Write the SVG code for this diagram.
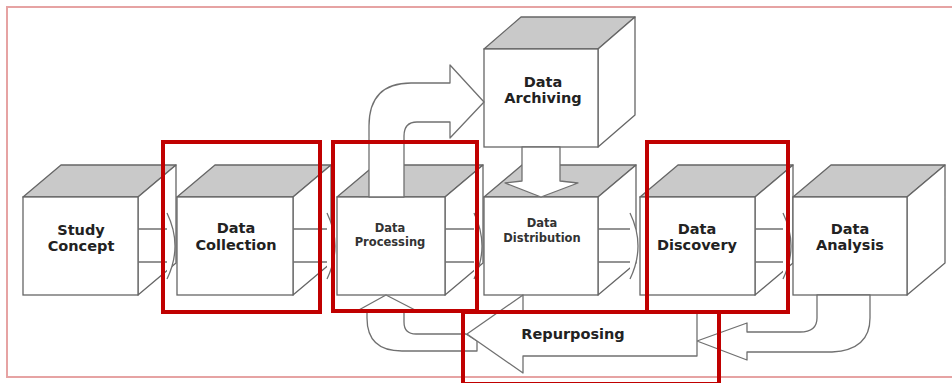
<svg xmlns="http://www.w3.org/2000/svg" width="952" height="383" viewBox="0 0 952 383">
  <style>
    .top { fill: #c9c9c9; stroke: #666; stroke-width: 1.3; stroke-linejoin: round; }
    .side { fill: #ffffff; stroke: #666; stroke-width: 1.3; stroke-linejoin: round; }
    .front { fill: #ffffff; stroke: #666; stroke-width: 1.3; }
    .lbl { font-family: "DejaVu Sans", Verdana, sans-serif; font-weight: bold; font-size: 14.5px; fill: #222; text-anchor: middle; }
    .lbl-s { font-family: "DejaVu Sans", Verdana, sans-serif; font-weight: bold; font-size: 11.5px; fill: #333; text-anchor: middle; }
    .arrow { fill: #ffffff; stroke: #707070; stroke-width: 1.3; stroke-linejoin: round; }
    .line { fill: none; stroke: #707070; stroke-width: 1.3; }
    .headfill { fill: #ffffff; stroke: none; }
    .hl { fill: none; stroke: #c00000; stroke-width: 4; }
  </style>

  <rect width="952" height="383" fill="#ffffff"/>
  <!-- outer frame -->
  <rect x="7" y="7" width="960" height="370" fill="none" stroke="#e6a3a3" stroke-width="2"/>

  <!-- process cubes -->
  <g id="study-concept">
    <polygon class="top" points="23,197 61,165 176,165 138,197"/>
    <polygon class="side" points="138,197 176,165 176,263 138,295"/>
    <rect class="front" x="23" y="197" width="115" height="98"/>
    <text class="lbl" x="81" y="235">Study</text>
    <text class="lbl" x="81" y="251">Concept</text>
  </g>
  <g id="data-collection">
    <polygon class="top" points="177,197 215,165 331,165 293,197"/>
    <polygon class="side" points="293,197 331,165 331,263 293,295"/>
    <rect class="front" x="177" y="197" width="116" height="98"/>
    <text class="lbl" x="236" y="233">Data</text>
    <text class="lbl" x="236" y="250">Collection</text>
  </g>
  <g id="data-processing">
    <polygon class="top" points="337,197 375,165 483,165 445,197"/>
    <polygon class="side" points="445,197 483,165 483,263 445,295"/>
    <rect class="front" x="337" y="197" width="108" height="98"/>
    <text class="lbl-s" x="390" y="232">Data</text>
    <text class="lbl-s" x="390" y="246">Processing</text>
  </g>
  <g id="data-distribution">
    <polygon class="top" points="484,197 522,165 636,165 598,197"/>
    <polygon class="side" points="598,197 636,165 636,263 598,295"/>
    <rect class="front" x="484" y="197" width="114" height="98"/>
    <text class="lbl-s" x="542" y="227">Data</text>
    <text class="lbl-s" x="542" y="242">Distribution</text>
  </g>
  <g id="data-discovery">
    <polygon class="top" points="640,197 678,165 793,165 755,197"/>
    <polygon class="side" points="755,197 793,165 793,263 755,295"/>
    <rect class="front" x="640" y="197" width="115" height="98"/>
    <text class="lbl" x="697" y="234">Data</text>
    <text class="lbl" x="697" y="250">Discovery</text>
  </g>
  <g id="data-analysis">
    <polygon class="top" points="793,197 831,165 945,165 907,197"/>
    <polygon class="side" points="907,197 945,165 945,263 907,295"/>
    <rect class="front" x="793" y="197" width="114" height="98"/>
    <text class="lbl" x="850" y="234">Data</text>
    <text class="lbl" x="850" y="250">Analysis</text>
  </g>
  <g id="data-archiving">
    <polygon class="top" points="484,49 521,17 635,17 598,49"/>
    <polygon class="side" points="598,49 635,17 635,115 598,147"/>
    <rect class="front" x="484" y="49" width="114" height="98"/>
    <text class="lbl" x="543" y="87">Data</text>
    <text class="lbl" x="543" y="103">Archiving</text>
  </g>

  <!-- connectors -->
  <g id="connectors">
    <!-- straight flow arrows, heads tucked behind the next cube -->
    <g>
      <path class="line" d="M138,229 H167 M138,262 H167"/>
      <path class="headfill" d="M167,213 Q183,246 167,279 Z"/>
      <path class="line" d="M167,213 Q183,246 167,279"/>
    </g>
    <g>
      <path class="line" d="M293,229 H327 M293,262 H327"/>
      <path class="headfill" d="M327,213 Q343,246 327,279 Z"/>
      <path class="line" d="M327,213 Q343,246 327,279"/>
    </g>
    <g>
      <path class="line" d="M445,229 H474 M445,262 H474"/>
      <path class="headfill" d="M474,213 Q490,246 474,279 Z"/>
      <path class="line" d="M474,213 Q490,246 474,279"/>
    </g>
    <g>
      <path class="line" d="M598,229 H630 M598,262 H630"/>
      <path class="headfill" d="M630,213 Q646,246 630,279 Z"/>
      <path class="line" d="M630,213 Q646,246 630,279"/>
    </g>
    <g>
      <path class="line" d="M755,229 H783 M755,262 H783"/>
      <path class="headfill" d="M783,213 Q799,246 783,279 Z"/>
      <path class="line" d="M783,213 Q799,246 783,279"/>
    </g>

    <!-- processing up to archiving -->
    <path class="arrow" d="M369,197 L369,126 Q369,83 411,83 L450,83 L450,65 L484,102 L450,138 L450,122 L417,122 Q404,122 404,136 L404,197 Z"/>
    <!-- archiving down to distribution -->
    <path class="arrow" d="M522,147 L522,181 L505,183 L541,197 L578,183 L560,181 L560,147 Z"/>
    <!-- repurposing back up to processing -->
    <path class="arrow" d="M357,311 L386,295 L417,311 L404,311 L404,322 Q404,334 416,334 L466,334 L477,341 L477,351 L402,351 Q367,351 367,318 L367,311 Z"/>
    <!-- analysis feeding repurposing -->
    <path class="arrow" d="M817,295 L817,318 Q817,332 800,332 L747,332 L747,323 L697,341 L747,360 L747,352 L832,352 Q870,350 870,318 L870,295 Z"/>
  </g>

  <g id="repurposing">
    <polygon class="arrow" points="697,313 523,313 523,295 467,334 523,373 523,356 697,356"/>
    <text class="lbl" x="573" y="339">Repurposing</text>
  </g>

  <!-- highlight frames -->
  <g id="highlights">
    <rect class="hl" x="163" y="142" width="157" height="170"/>
    <rect class="hl" x="333" y="142" width="144" height="169"/>
    <rect class="hl" x="647" y="142" width="141" height="170"/>
    <rect class="hl" x="463" y="312" width="256" height="72"/>
  </g>
</svg>
